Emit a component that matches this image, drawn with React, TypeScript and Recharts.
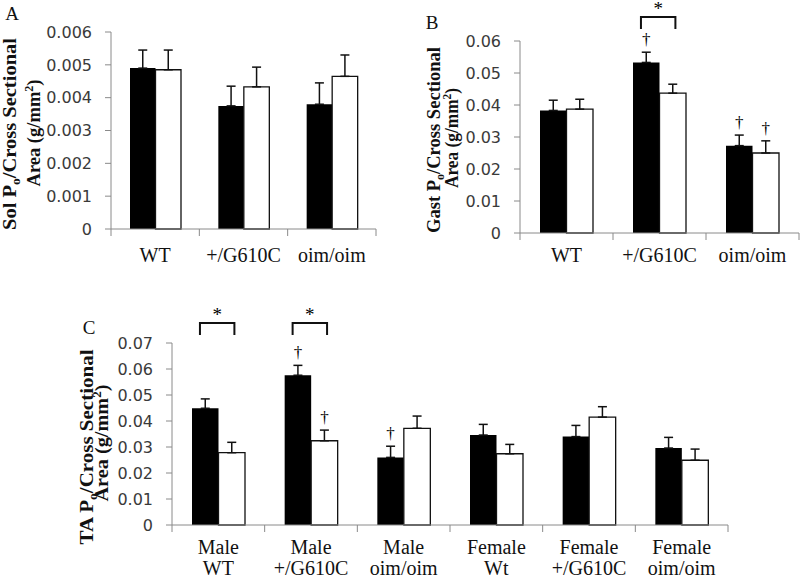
import React from 'react';
import { BarChart, Bar, XAxis, YAxis, ErrorBar, LabelList } from 'recharts';

// ---------- Data ----------
const catsA = ['WT', '+/G610C', 'oim/oim'];
const blackA = [0.0049, 0.00375, 0.0038];
const blackErrA = [0.00055, 0.0006, 0.00065];
const whiteA = [0.00485, 0.00433, 0.00465];
const whiteErrA = [0.0006, 0.0006, 0.00065];
const yTicksA = [0, 0.001, 0.002, 0.003, 0.004, 0.005, 0.006];

const catsB = ['WT', '+/G610C', 'oim/oim'];
const blackB = [0.0383, 0.0533, 0.0273];
const blackErrB = [0.0032, 0.0032, 0.0033];
const whiteB = [0.0387, 0.0437, 0.025];
const whiteErrB = [0.0031, 0.0028, 0.0038];
const daggerBlackB = [false, true, true];
const daggerWhiteB = [false, false, true];
const starB = [false, true, false];
const yTicksB = [0, 0.01, 0.02, 0.03, 0.04, 0.05, 0.06];

const catsC = ['Male\nWT', 'Male\n+/G610C', 'Male\noim/oim', 'Female\nWt', 'Female\n+/G610C', 'Female\noim/oim'];
const blackC = [0.0449, 0.0576, 0.026, 0.0346, 0.034, 0.0296];
const blackErrC = [0.0036, 0.0038, 0.0043, 0.0041, 0.0043, 0.0041];
const whiteC = [0.0278, 0.0324, 0.0372, 0.0274, 0.0415, 0.0249];
const whiteErrC = [0.004, 0.0041, 0.0047, 0.0036, 0.004, 0.0043];
const daggerBlackC = [false, true, true, false, false, false];
const daggerWhiteC = [false, true, false, false, false, false];
const starC = [true, true, false, false, false, false];
const yTicksC = [0, 0.01, 0.02, 0.03, 0.04, 0.05, 0.06, 0.07];

const noFlags = (n: number) => new Array(n).fill(false);

// ---------- Styling ----------
const AXIS = '#8a8a8a';
const SERIF = "'Liberation Serif', 'Times New Roman', serif";
const SANS = "'DejaVu Sans', sans-serif";

const buildRows = (cats: string[], b: number[], be: number[], w: number[], we: number[]) =>
  cats.map((c, i) => ({ cat: c, black: b[i], white: w[i], blackErr: [0, be[i]], whiteErr: [0, we[i]] }));

const fmt = (decimals: number) => (v: number) => (v === 0 ? '0' : v.toFixed(decimals));

const makeXTick = (n: number, band: number, firstDy: number, lineGap: number) => (props: any) => {
  const { x, y, payload, index } = props;
  const off = typeof payload?.offset === 'number' && payload.offset > 0 ? payload.offset : band / 2;
  const lines = String(payload.value).split('\n');
  return (
    <g>
      <line x1={x - off} x2={x - off} y1={y} y2={y + 7} stroke={AXIS} strokeWidth={1} />
      {index === n - 1 && <line x1={x + off} x2={x + off} y1={y} y2={y + 7} stroke={AXIS} strokeWidth={1} />}
      <text x={x} y={y + firstDy} textAnchor="middle" fontFamily={SERIF} fontSize={20} fill="#111">
        {lines.map((l, i) => (
          <tspan key={i} x={x} dy={i === 0 ? 0 : lineGap}>
            {l}
          </tspan>
        ))}
      </text>
    </g>
  );
};

const makeMarks = (
  values: number[],
  errs: number[],
  dagger: boolean[],
  star: boolean[],
  plotH: number,
  rise: number
) => (props: any) => {
  const vb = props.viewBox || {};
  const i = props.index;
  const x = Number(props.x ?? vb.x);
  const y = Number(props.y ?? vb.y);
  const w = Number(props.width ?? vb.width);
  const h = Number(props.height ?? vb.height);
  if (!isFinite(x) || !isFinite(y) || i == null) return null;
  const capY = y - (h * errs[i]) / values[i];
  const top = y + h - plotH;
  const bt = top - rise;
  return (
    <g>
      {dagger[i] && (
        <text x={x + w / 2} y={capY - 7} textAnchor="middle" fontFamily={SERIF} fontSize={17} fill="#000">
          †
        </text>
      )}
      {star[i] && (
        <g>
          <path
            d={`M${x + w * 0.3},${bt + 12} L${x + w * 0.3},${bt} L${x + w * 1.6},${bt} L${x + w * 1.6},${bt + 12}`}
            fill="none"
            stroke="#111"
            strokeWidth={2}
          />
          <text x={x + w * 0.95} y={bt - 2} textAnchor="middle" fontFamily={SERIF} fontSize={19} fill="#000">
            *
          </text>
        </g>
      )}
    </g>
  );
};

type PanelProps = {
  left: number;
  top: number;
  width: number;
  height: number;
  margin: { top: number; right: number; bottom: number; left: number };
  yWidth: number;
  cats: string[];
  black: number[];
  blackErr: number[];
  white: number[];
  whiteErr: number[];
  daggerBlack: boolean[];
  daggerWhite: boolean[];
  star: boolean[];
  yTicks: number[];
  decimals: number;
  barSize: number;
  firstDy: number;
  lineGap: number;
  rise: number;
  letter: { text: string; x: number; y: number };
  yLabel: { line1: string; x1: number; x2: number; cy1: number; cy2: number; len1: number; len2: number; fs: number };
};

const XH = 40;

const Panel = (p: PanelProps) => {
  const data = buildRows(p.cats, p.black, p.blackErr, p.white, p.whiteErr);
  const plotH = p.height - p.margin.top - p.margin.bottom - XH;
  const plotW = p.width - p.margin.left - p.margin.right - p.yWidth;
  const band = plotW / p.cats.length;
  const yl = p.yLabel;
  const labelContent = () => (
    <g>
      <text x={p.letter.x} y={p.letter.y} textAnchor="middle" fontFamily={SERIF} fontSize={19} fill="#111">
        {p.letter.text}
      </text>
      <text
        x={yl.x1}
        y={yl.cy1}
        transform={`rotate(-90 ${yl.x1} ${yl.cy1})`}
        textAnchor="middle"
        fontFamily={SERIF}
        fontWeight="bold"
        fontSize={yl.fs}
        fill="#111"
        textLength={yl.len1}
        lengthAdjust="spacingAndGlyphs"
      >
        {yl.line1} P<tspan fontSize={yl.fs * 0.65} dy={4}>o</tspan>
        <tspan dy={-4}>/Cross Sectional</tspan>
      </text>
      <text
        x={yl.x2}
        y={yl.cy2}
        transform={`rotate(-90 ${yl.x2} ${yl.cy2})`}
        textAnchor="middle"
        fontFamily={SERIF}
        fontWeight="bold"
        fontSize={yl.fs}
        fill="#111"
        textLength={yl.len2}
        lengthAdjust="spacingAndGlyphs"
      >
        Area (g/mm<tspan fontSize={yl.fs * 0.65} dy={-7}>2</tspan>
        <tspan dy={7}>)</tspan>
      </text>
    </g>
  );
  return (
    <div style={{ position: 'absolute', left: p.left, top: p.top, width: p.width, height: p.height }}>
      <BarChart width={p.width} height={p.height} data={data} margin={p.margin} barGap={0} barSize={p.barSize}>
        <XAxis
          dataKey="cat"
          height={XH}
          axisLine={{ stroke: AXIS, strokeWidth: 1 }}
          tickLine={false}
          tickSize={0}
          tickMargin={0}
          interval={0}
          tick={makeXTick(p.cats.length, band, p.firstDy, p.lineGap)}
        />
        <YAxis
          width={p.yWidth}
          domain={[p.yTicks[0], p.yTicks[p.yTicks.length - 1]]}
          ticks={p.yTicks}
          interval={0}
          tickFormatter={fmt(p.decimals)}
          axisLine={{ stroke: AXIS, strokeWidth: 1 }}
          tickLine={{ stroke: AXIS, strokeWidth: 1 }}
          tickSize={6}
          tickMargin={13}
          tick={{ fontFamily: SANS, fontSize: 16, fill: '#3a3a3a' }}
          label={{ content: labelContent }}
        />
        <Bar dataKey="black" fill="#000" isAnimationActive={false}>
          <ErrorBar dataKey="blackErr" direction="y" width={4.5} stroke="#111" strokeWidth={1.5} />
          <LabelList dataKey="black" content={makeMarks(p.black, p.blackErr, p.daggerBlack, p.star, plotH, p.rise)} />
        </Bar>
        <Bar dataKey="white" fill="#fff" stroke="#111" strokeWidth={1.3} isAnimationActive={false}>
          <ErrorBar dataKey="whiteErr" direction="y" width={4.5} stroke="#111" strokeWidth={1.5} />
          <LabelList
            dataKey="white"
            content={makeMarks(p.white, p.whiteErr, p.daggerWhite, noFlags(p.cats.length), plotH, p.rise)}
          />
        </Bar>
      </BarChart>
    </div>
  );
};

export default function App() {
  return (
    <div style={{ position: 'relative', width: 800, height: 576, background: '#fff', overflow: 'hidden' }}>
      <style>{`body{margin:0;overflow:hidden;background:#fff}`}</style>
      <Panel
        left={0}
        top={0}
        width={400}
        height={290}
        margin={{ top: 32, right: 24, bottom: 21, left: 0 }}
        yWidth={111}
        cats={catsA}
        black={blackA}
        blackErr={blackErrA}
        white={whiteA}
        whiteErr={whiteErrA}
        daggerBlack={noFlags(3)}
        daggerWhite={noFlags(3)}
        star={noFlags(3)}
        yTicks={yTicksA}
        decimals={3}
        barSize={25.5}
        firstDy={33}
        lineGap={22}
        rise={20}
        letter={{ text: 'A', x: 12, y: 20 }}
        yLabel={{ line1: 'Sol', x1: 16, x2: 40, cy1: 134, cy2: 133, len1: 192, len2: 107, fs: 19 }}
      />
      <Panel
        left={400}
        top={0}
        width={400}
        height={290}
        margin={{ top: 41, right: 1, bottom: 17, left: 0 }}
        yWidth={120}
        cats={catsB}
        black={blackB}
        blackErr={blackErrB}
        white={whiteB}
        whiteErr={whiteErrB}
        daggerBlack={daggerBlackB}
        daggerWhite={daggerWhiteB}
        star={starB}
        yTicks={yTicksB}
        decimals={2}
        barSize={26.5}
        firstDy={29}
        lineGap={22}
        rise={24}
        letter={{ text: 'B', x: 32, y: 29 }}
        yLabel={{ line1: 'Gast', x1: 40, x2: 58, cy1: 140, cy2: 138, len1: 186, len2: 100, fs: 18 }}
      />
      <Panel
        left={0}
        top={290}
        width={800}
        height={286}
        margin={{ top: 53, right: 72, bottom: 11, left: 0 }}
        yWidth={172}
        cats={catsC}
        black={blackC}
        blackErr={blackErrC}
        white={whiteC}
        whiteErr={whiteErrC}
        daggerBlack={daggerBlackC}
        daggerWhite={daggerWhiteC}
        star={starC}
        yTicks={yTicksC}
        decimals={2}
        barSize={26.5}
        firstDy={29}
        lineGap={21}
        rise={20}
        letter={{ text: 'C', x: 89, y: 44 }}
        yLabel={{ line1: 'TA', x1: 93, x2: 108, cy1: 157, cy2: 153, len1: 195, len2: 117, fs: 18.5 }}
      />
    </div>
  );
}
